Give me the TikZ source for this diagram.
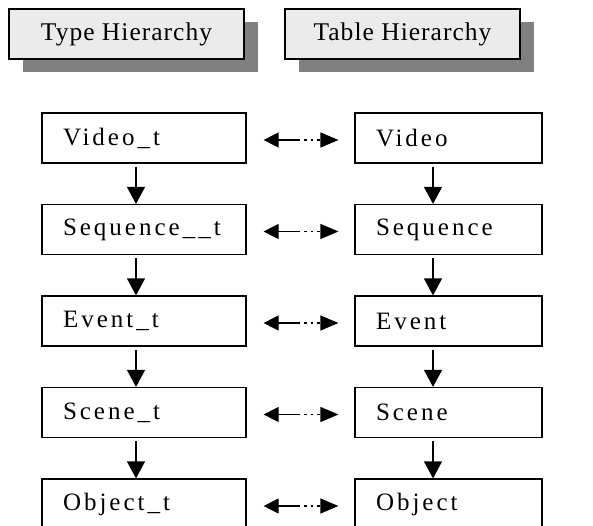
\documentclass[tikz,border=0pt]{standalone}
\usepackage{fontspec}
\setmainfont{Liberation Serif}
\newfontfamily\boxfont[LetterSpace=12]{Liberation Serif}
\newfontfamily\headfont[LetterSpace=4]{Liberation Serif}
\usetikzlibrary{arrows.meta,shadows,calc}
\definecolor{headfill}{HTML}{EBEBEB}
\definecolor{shadowgray}{HTML}{808080}
\tikzset{
  headbox/.style={draw=black, line width=1.6pt, fill=headfill,
    minimum width=235pt, minimum height=50pt, inner sep=0pt,
    font=\headfont\fontsize{25.5}{30}\selectfont,
    drop shadow={shadow xshift=14pt, shadow yshift=-13pt,
      fill=shadowgray, opacity=1}},
  levelbox/.style={draw=black, line width=1.2pt, fill=white,
    text width=#1, align=left, minimum height=50pt, inner xsep=0pt,
    inner ysep=0pt, font=\boxfont\fontsize{25}{29}\selectfont},
  down/.style={line width=1.2pt, shorten <=3pt,
    -{Triangle[length=17pt,width=18pt]}},
  linkhead/.style={line width=1.2pt},
  linkdots/.style={line width=1.2pt, dash pattern=on 2.5pt off 4pt},
}
\newcommand{\pad}{\hspace*{21pt}}
\begin{document}
\begin{tikzpicture}[x=1pt,y=-1pt]
\useasboundingbox (0,0) rectangle (593,526);
\clip (0,0) rectangle (593,526);

% column headings
\node[headbox] (th) at (126.5,34) {Type Hierarchy};
\node[headbox] (tb) at (402.5,34) {Table Hierarchy};

% type hierarchy (left) and table hierarchy (right)
\foreach \n/\lt/\rt [count=\i from 0] in
  {v/Video\_t/Video, s/Sequence\_\_t/Sequence, e/Event\_t/Event,
   c/Scene\_t/Scene, o/Object\_t/Object}{
  \node[levelbox=204pt] (l\n) at (144,138+91.5*\i) {\pad\lt};
  \node[levelbox=187pt] (r\n) at (448.5,138+91.5*\i) {\pad\rt};
}

% parent-to-child arrows
\foreach \a/\b in {v/s, s/e, e/c, c/o}{
  \draw[down] ([xshift=-8pt]l\a.south) -- ([xshift=-8pt]l\b.north);
  \draw[down] ([xshift=-15.5pt]r\a.south) -- ([xshift=-15.5pt]r\b.north);
}

% correspondence between types and tables
\foreach \n in {v, s, e, c, o}{
  \coordinate (p\n) at ($(l\n.east)+(17,2)$);
  \coordinate (m\n) at ($(l\n.east)+(51,2)$);
  \coordinate (q\n) at ($(r\n.west)+(-16,2)$);
  \draw[linkhead, {Triangle[length=15pt,width=15pt]}-] (p\n) -- (m\n);
  \draw[linkdots, -{Triangle[length=18pt,width=15pt]}] (m\n) -- (q\n);
}
\end{tikzpicture}
\end{document}
